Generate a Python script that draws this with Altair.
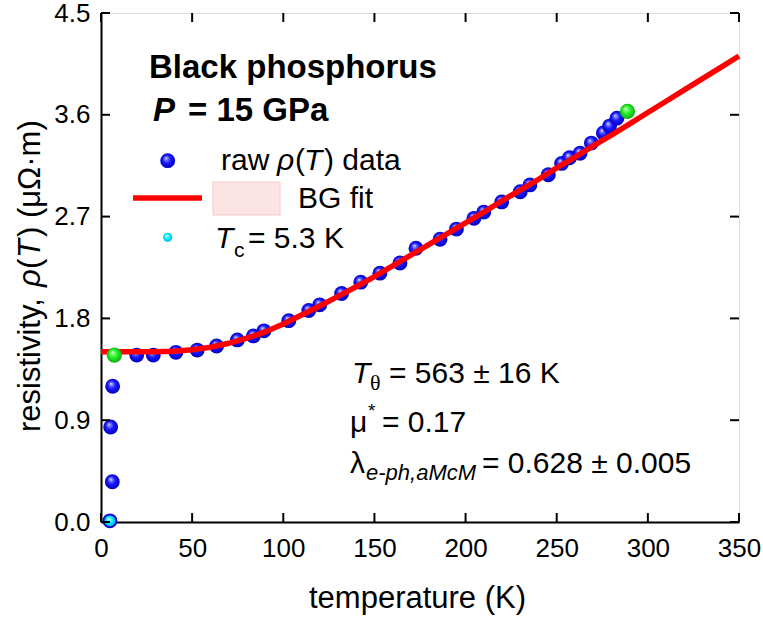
import altair as alt
import pandas as pd

FONT = "Liberation Sans"

# ---- data ----
T_raw = [4.9, 6.2, 5.3, 6.4, 19.6, 28.7, 41.1, 52.8, 63.4, 74.8, 83.6, 89.4, 103, 114, 120,
         132, 142.5, 153, 164, 172.8, 186, 195, 204.6, 210, 219.8, 230, 235.3, 245.4,
         252.7, 257, 262.8, 269, 275.6, 279, 283]
rho_raw = [0.01, 0.356, 0.84, 1.20, 1.476, 1.476, 1.50, 1.52, 1.556, 1.61, 1.645, 1.69, 1.78,
           1.87, 1.92, 2.02, 2.12, 2.20, 2.29, 2.42, 2.50, 2.59, 2.685, 2.74, 2.83, 2.92,
           2.98, 3.07, 3.17, 3.22, 3.26, 3.35, 3.44, 3.50, 3.57]

T_fit = [0, 10, 20, 30, 40, 50, 60, 70, 80, 90, 100, 110, 120, 130, 140, 150, 160, 170,
         180, 190, 200, 210, 220, 230, 240, 250, 260, 270, 280, 290, 300, 310, 320, 330,
         340, 350]
rho_fit = [1.505, 1.505, 1.505, 1.506, 1.51, 1.522, 1.545, 1.58, 1.625, 1.68, 1.75, 1.83,
           1.91, 1.995, 2.08, 2.17, 2.265, 2.36, 2.455, 2.55, 2.645, 2.74, 2.84, 2.935,
           3.03, 3.13, 3.225, 3.325, 3.42, 3.52, 3.62, 3.72, 3.82, 3.92, 4.02, 4.12]

T_ends = [7.3, 288.8]
rho_ends = [1.476, 3.63]

T_tc = [4.9]
rho_tc = [0.01]

x_ticks = [0, 50, 100, 150, 200, 250, 300, 350]
y_ticks = [0.0, 0.9, 1.8, 2.7, 3.6, 4.5]

W, H = 638, 509

raw_df = pd.DataFrame({"T": T_raw, "rho": rho_raw})
fit_df = pd.DataFrame({"T": T_fit, "rho": rho_fit})
ends_df = pd.DataFrame({"T": T_ends, "rho": rho_ends})
tc_df = pd.DataFrame({"T": T_tc, "rho": rho_tc})
xt_df = pd.DataFrame({"t": x_ticks})
yt_df = pd.DataFrame({"t": y_ticks})
one = pd.DataFrame({"k": [0]})

xs = alt.Scale(domain=[0, 350], nice=False, zero=False)
ys = alt.Scale(domain=[0, 4.5], nice=False, zero=False)


def sphere(c0, c1, c2, c3):
    return alt.RadialGradient(
        gradient="radial",
        x1=0.38, y1=0.32, r1=0.0,
        x2=0.5, y2=0.5, r2=0.55,
        stops=[alt.GradientStop(color=c0, offset=0.0),
               alt.GradientStop(color=c1, offset=0.18),
               alt.GradientStop(color=c2, offset=0.5),
               alt.GradientStop(color=c3, offset=1.0)],
    )


BLUE = sphere("#f0f0ff", "#8080ff", "#1515ff", "#0000b0")
GREEN = sphere("#e8ffe8", "#80ff80", "#22ee22", "#10a010")
CYAN = sphere("#ffffff", "#a0ffff", "#00f0ff", "#00b0d0")

base_x = alt.X("T:Q", scale=xs, title=None,
               axis=alt.Axis(values=x_ticks, ticks=False, tickSize=0, grid=False,
                             labelFontSize=26, labelPadding=13, labelColor="black",
                             labelFlush=False, labelOverlap=False,
                             domainColor="black", domainWidth=2, labelFont=FONT))
base_y = alt.Y("rho:Q", scale=ys, title=None,
               axis=alt.Axis(values=y_ticks, ticks=False, tickSize=0, grid=False, format=".1f",
                             labelFontSize=26, labelPadding=11, labelColor="black",
                             labelFlush=False, labelOverlap=False,
                             domainColor="black", domainWidth=2, labelFont=FONT))

raw = alt.Chart(raw_df).mark_circle(size=220, fill=BLUE, opacity=1, strokeWidth=0).encode(
    x=base_x, y=base_y)
fit = alt.Chart(fit_df).mark_line(color="#ff0000", strokeWidth=5.5).encode(
    x=alt.X("T:Q", scale=xs), y=alt.Y("rho:Q", scale=ys))
ends = alt.Chart(ends_df).mark_circle(size=235, fill=GREEN, opacity=1, strokeWidth=0).encode(
    x=alt.X("T:Q", scale=xs), y=alt.Y("rho:Q", scale=ys))
tc = alt.Chart(tc_df).mark_circle(size=120, fill=CYAN, opacity=1, strokeWidth=0).encode(
    x=alt.X("T:Q", scale=xs), y=alt.Y("rho:Q", scale=ys))

# inward ticks on all four sides
tick_style = dict(color="black", strokeWidth=2)
bt = alt.Chart(xt_df).mark_rule(**tick_style).encode(
    x=alt.X("t:Q", scale=xs), y=alt.value(H), y2=alt.value(H - 9))
tt = alt.Chart(xt_df).mark_rule(**tick_style).encode(
    x=alt.X("t:Q", scale=xs), y=alt.value(0), y2=alt.value(9))
lt = alt.Chart(yt_df).mark_rule(**tick_style).encode(
    y=alt.Y("t:Q", scale=ys), x=alt.value(0), x2=alt.value(9))
rt = alt.Chart(yt_df).mark_rule(**tick_style).encode(
    y=alt.Y("t:Q", scale=ys), x=alt.value(W), x2=alt.value(W - 9))


def label(txt, x, y, size=30, style="normal", weight="normal", font=FONT,
          align="left", angle=0):
    kw = dict(text=txt, fontSize=size, fontStyle=style, fontWeight=weight, font=font,
              align=align, baseline="alphabetic", color="black")
    if angle:
        kw["angle"] = angle
    return alt.Chart(one).mark_text(**kw).encode(x=alt.value(x), y=alt.value(y))


texts = [
    # header
    label("Black phosphorus", 48, 65, size=33, weight="bold"),
    label("P", 52, 108, size=33, weight="bold", style="italic"),
    label("= 15 GPa", 87, 108, size=33, weight="bold"),
    # legend
    label("raw", 120, 157),
    label("ρ", 176, 157, style="italic"),
    label("(", 194, 157),
    label("T", 203, 157, style="italic"),
    label(") data", 223, 157),
    label("BG fit", 197, 195),
    label("T", 114, 235, style="italic"),
    label("c", 133, 244, size=21),
    label("= 5.3 K", 147, 235),
    # fit parameters
    label("T", 251, 370, style="italic"),
    label("θ", 269, 377, size=22, font="Liberation Serif"),
    label("= 563 ± 16 K", 288, 370),
    label("μ", 249, 419),
    label("*", 267, 404, size=19),
    label("= 0.17", 281, 419),
    label("λ", 249, 460),
    label("e-ph,aMcM", 265, 467, size=22, style="italic"),
    label("= 0.628 ± 0.005", 381, 460),
    # axis titles
    label("temperature (K)", 316.5, 595, size=31, align="center"),
    label("resistivity,", -61, 419, size=31, angle=270),
    label("ρ", -61, 274, size=31, style="italic", angle=270),
    label("(", -61, 256, size=31, angle=270),
    label("T", -61, 245, size=31, style="italic", angle=270),
    label(") (μΩ·m)", -61, 224, size=31, angle=270),
]

leg_line = alt.Chart(one).mark_rule(color="#ff0000", strokeWidth=5.5).encode(
    x=alt.value(32), x2=alt.value(101), y=alt.value(185))
leg_box = alt.Chart(one).mark_rect(fill="#fde4e4", stroke="#f3caca", strokeWidth=1).encode(
    x=alt.value(112), x2=alt.value(179), y=alt.value(169), y2=alt.value(202))
leg_blue = alt.Chart(one).mark_circle(size=220, fill=BLUE, opacity=1).encode(
    x=alt.value(66.7), y=alt.value(147.7))
leg_cyan = alt.Chart(one).mark_circle(size=85, fill=CYAN, opacity=1).encode(
    x=alt.value(66.7), y=alt.value(224.3))

chart = alt.layer(
    raw, tc, fit, ends, bt, tt, lt, rt, leg_line, leg_box, leg_blue, leg_cyan, *texts
).properties(
    width=W, height=H,
    autosize=alt.AutoSizeParams(type="none"),
    padding={"left": 101, "top": 13, "right": 24, "bottom": 99},
).configure_view(
    stroke="black", strokeWidth=2
).configure(
    font=FONT, background="white"
)

chart.save("out.html", embed_options={"renderer": "svg", "actions": False})
